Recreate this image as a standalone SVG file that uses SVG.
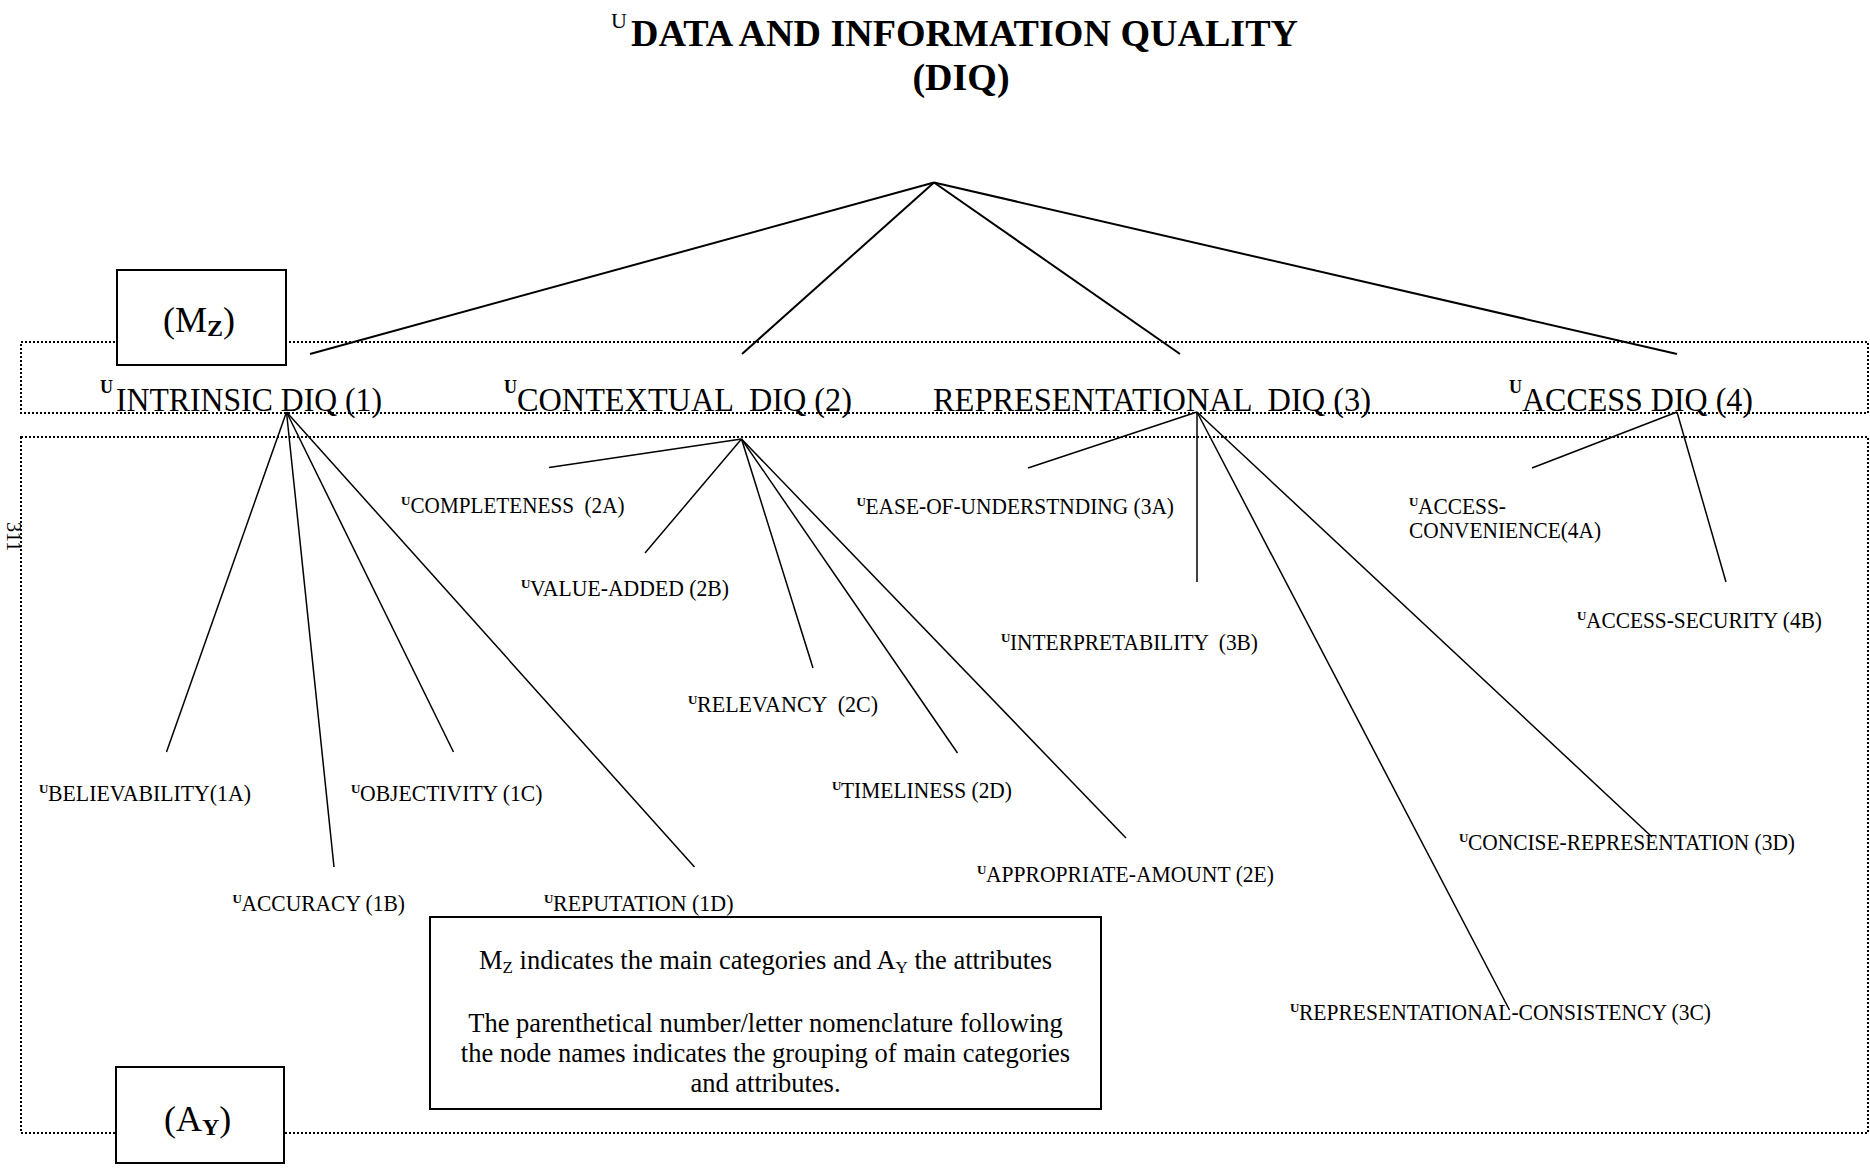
<svg xmlns="http://www.w3.org/2000/svg" width="1870" height="1169" viewBox="0 0 1870 1169">
<style>
text{font-family:"Liberation Serif","Times New Roman",serif;fill:#000}
.title{font-size:38px;font-weight:bold}
.tsup{font-size:22px}
.cat{font-size:34px}
.csup{font-size:18px;font-weight:bold}
.att{font-size:22.5px}
.asup{font-size:13px;font-weight:bold}
.note{font-size:26.5px}
.leg{font-size:36px}
.legsub{font-size:24px;font-weight:bold}
.dot{fill:none;stroke:#000;stroke-width:2;stroke-dasharray:2 2}
.box{fill:#fff;stroke:#000;stroke-width:2}
.l1{stroke:#000;stroke-width:2;fill:none}
.l2{stroke:#000;stroke-width:1.5;fill:none}
</style>
<rect width="1870" height="1169" fill="#fff"/>

<g id="frames">
<rect class="dot" x="21" y="342" width="1847" height="71"/>
<rect class="dot" x="21" y="437" width="1847" height="696"/>
</g>

<g id="connectors">
<line class="l1" x1="934" y1="182.5" x2="310" y2="354"/>
<line class="l1" x1="934" y1="182.5" x2="742" y2="354"/>
<line class="l1" x1="934" y1="182.5" x2="1180" y2="354"/>
<line class="l1" x1="934" y1="182.5" x2="1677" y2="354"/>
<line class="l2" x1="286.5" y1="412" x2="166.5" y2="752"/>
<line class="l2" x1="286.5" y1="412" x2="334" y2="867"/>
<line class="l2" x1="286.5" y1="412" x2="453.5" y2="752"/>
<line class="l2" x1="286.5" y1="412" x2="694.5" y2="867"/>
<line class="l2" x1="741.5" y1="439" x2="549" y2="467.5"/>
<line class="l2" x1="741.5" y1="439" x2="645" y2="553"/>
<line class="l2" x1="741.5" y1="439" x2="813" y2="668"/>
<line class="l2" x1="741.5" y1="439" x2="957.5" y2="753"/>
<line class="l2" x1="741.5" y1="439" x2="1126" y2="838"/>
<line class="l2" x1="1197" y1="412" x2="1028" y2="468"/>
<line class="l2" x1="1197" y1="412" x2="1197" y2="582"/>
<line class="l2" x1="1197" y1="412" x2="1509.5" y2="1010"/>
<line class="l2" x1="1197" y1="412" x2="1652" y2="837"/>
<line class="l2" x1="1677" y1="412" x2="1532" y2="468"/>
<line class="l2" x1="1677" y1="412" x2="1726" y2="582"/>
</g>

<g id="title">
<text class="tsup" x="611" y="28">U</text>
<text class="title" x="631" y="46" textLength="667" lengthAdjust="spacingAndGlyphs">DATA AND INFORMATION QUALITY</text>
<text class="title" x="961" y="90" text-anchor="middle">(DIQ)</text>
</g>

<g id="legend-mz">
<rect class="box" x="117" y="270" width="169" height="95"/>
<text class="leg" x="163" y="332">(M<tspan class="legsub" dy="4">Z</tspan><tspan dy="-4">)</tspan></text>
</g>

<g id="legend-ay">
<rect class="box" x="116" y="1067" width="168" height="96"/>
<text class="leg" x="164" y="1131">(A<tspan class="legsub" dy="4">Y</tspan><tspan dy="-4">)</tspan></text>
</g>

<g id="cat-1">
<text class="csup" x="100" y="393">U</text>
<text class="cat" x="116" y="410.5" textLength="266" lengthAdjust="spacingAndGlyphs">INTRINSIC DIQ (1)</text>
</g>
<g id="cat-2">
<text class="csup" x="504" y="393">U</text>
<text class="cat" x="517" y="410.5" textLength="335" lengthAdjust="spacingAndGlyphs" xml:space="preserve">CONTEXTUAL  DIQ (2)</text>
</g>
<g id="cat-3">
<text class="cat" x="933" y="410.5" textLength="438" lengthAdjust="spacingAndGlyphs" xml:space="preserve">REPRESENTATIONAL  DIQ (3)</text>
</g>
<g id="cat-4">
<text class="csup" x="1509" y="393">U</text>
<text class="cat" x="1522" y="410.5" textLength="231" lengthAdjust="spacingAndGlyphs">ACCESS DIQ (4)</text>
</g>

<g id="att-1A">
<text class="asup" x="39" y="793">U</text>
<text class="att" x="48" y="801" textLength="203" lengthAdjust="spacingAndGlyphs">BELIEVABILITY(1A)</text>
</g>
<g id="att-1B">
<text class="asup" x="232.5" y="903">U</text>
<text class="att" x="241.5" y="911" textLength="163.5" lengthAdjust="spacingAndGlyphs">ACCURACY (1B)</text>
</g>
<g id="att-1C">
<text class="asup" x="351" y="793">U</text>
<text class="att" x="360" y="801" textLength="182.5" lengthAdjust="spacingAndGlyphs">OBJECTIVITY (1C)</text>
</g>
<g id="att-1D">
<text class="asup" x="544" y="903">U</text>
<text class="att" x="553" y="911" textLength="180.5" lengthAdjust="spacingAndGlyphs">REPUTATION (1D)</text>
</g>
<g id="att-2A">
<text class="asup" x="401" y="505">U</text>
<text class="att" x="410.5" y="513" textLength="214" lengthAdjust="spacingAndGlyphs" xml:space="preserve">COMPLETENESS  (2A)</text>
</g>
<g id="att-2B">
<text class="asup" x="521" y="588">U</text>
<text class="att" x="530" y="596" textLength="199" lengthAdjust="spacingAndGlyphs">VALUE-ADDED (2B)</text>
</g>
<g id="att-2C">
<text class="asup" x="688" y="704">U</text>
<text class="att" x="697" y="712" textLength="181" lengthAdjust="spacingAndGlyphs" xml:space="preserve">RELEVANCY  (2C)</text>
</g>
<g id="att-2D">
<text class="asup" x="832" y="790">U</text>
<text class="att" x="841" y="798" textLength="171" lengthAdjust="spacingAndGlyphs">TIMELINESS (2D)</text>
</g>
<g id="att-2E">
<text class="asup" x="977" y="874">U</text>
<text class="att" x="986" y="882" textLength="288" lengthAdjust="spacingAndGlyphs">APPROPRIATE-AMOUNT (2E)</text>
</g>
<g id="att-3A">
<text class="asup" x="856.5" y="506">U</text>
<text class="att" x="865.5" y="514" textLength="308.5" lengthAdjust="spacingAndGlyphs">EASE-OF-UNDERSTNDING (3A)</text>
</g>
<g id="att-3B">
<text class="asup" x="1001" y="642">U</text>
<text class="att" x="1010" y="650" textLength="248" lengthAdjust="spacingAndGlyphs" xml:space="preserve">INTERPRETABILITY  (3B)</text>
</g>
<g id="att-3C">
<text class="asup" x="1290" y="1012">U</text>
<text class="att" x="1299" y="1020" textLength="412" lengthAdjust="spacingAndGlyphs">REPRESENTATIONAL-CONSISTENCY (3C)</text>
</g>
<g id="att-3D">
<text class="asup" x="1459" y="842">U</text>
<text class="att" x="1468" y="850" textLength="327" lengthAdjust="spacingAndGlyphs">CONCISE-REPRESENTATION (3D)</text>
</g>
<g id="att-4A">
<text class="asup" x="1409" y="506">U</text>
<text class="att" x="1418" y="514" textLength="88" lengthAdjust="spacingAndGlyphs">ACCESS-</text>
<text class="att" x="1409" y="538" textLength="192" lengthAdjust="spacingAndGlyphs">CONVENIENCE(4A)</text>
</g>
<g id="att-4B">
<text class="asup" x="1577" y="620">U</text>
<text class="att" x="1586" y="628" textLength="236" lengthAdjust="spacingAndGlyphs">ACCESS-SECURITY (4B)</text>
</g>

<g id="note">
<rect class="box" x="430" y="917" width="671" height="192"/>
<text class="note" x="765.5" y="969" text-anchor="middle">M<tspan font-size="17" dy="4">Z</tspan><tspan dy="-4"> indicates the main categories and A</tspan><tspan font-size="17" dy="4">Y</tspan><tspan dy="-4"> the attributes</tspan></text>
<text class="note" x="765.5" y="1032" text-anchor="middle">The parenthetical number/letter nomenclature following</text>
<text class="note" x="765.5" y="1062" text-anchor="middle">the node names indicates the grouping of main categories</text>
<text class="note" x="765.5" y="1092" text-anchor="middle">and attributes.</text>
</g>

<g id="page-number">
<text x="0" y="0" font-size="20" transform="translate(7,522) rotate(90)">311</text>
</g>
</svg>
